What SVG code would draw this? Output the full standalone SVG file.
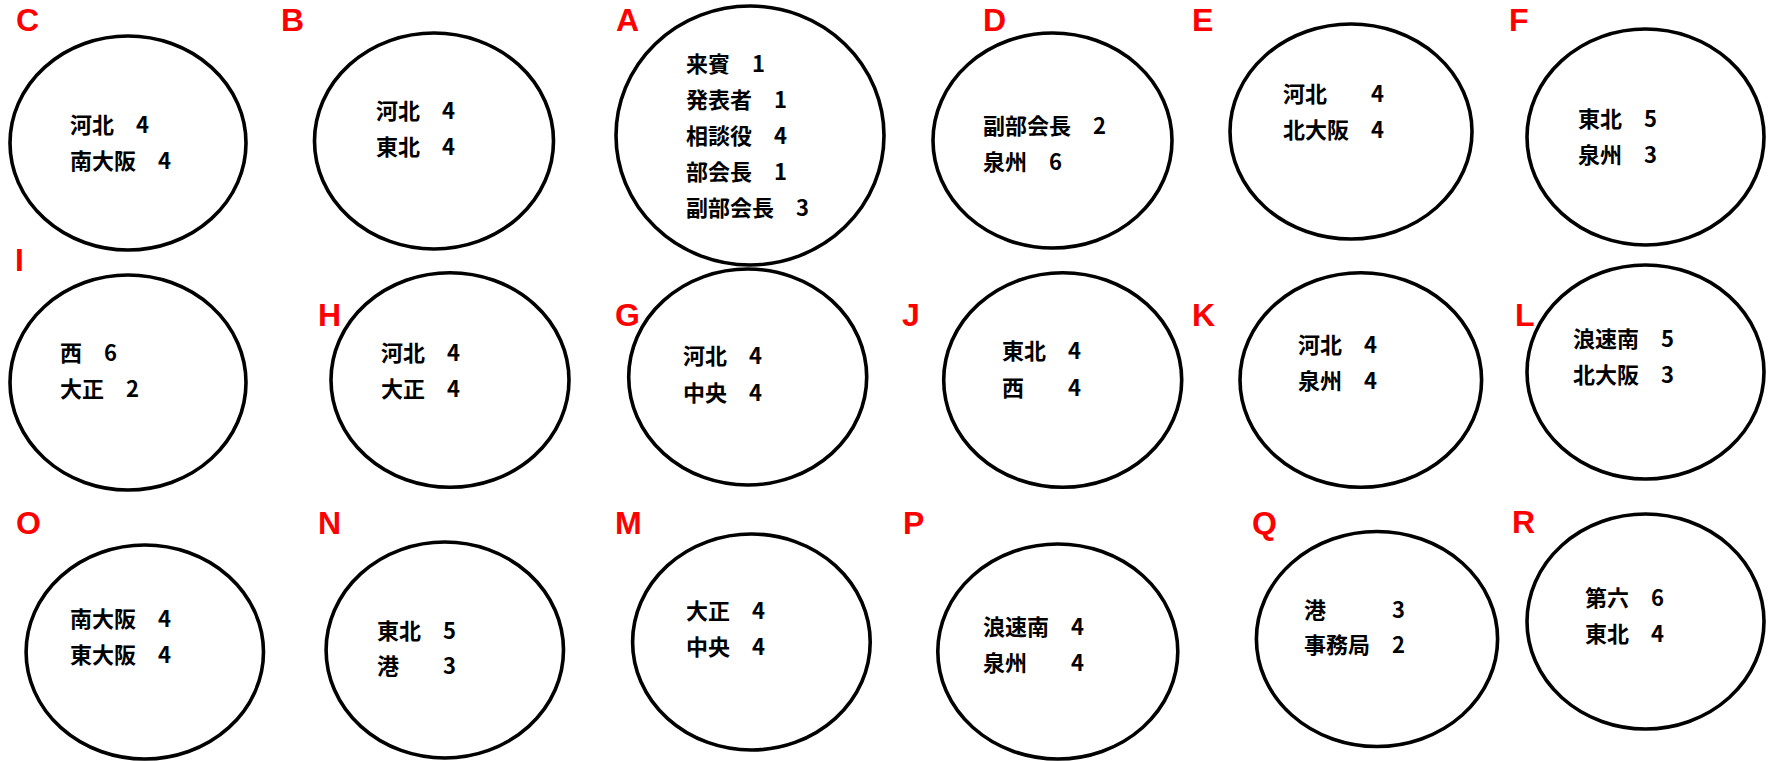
<svg xmlns="http://www.w3.org/2000/svg" width="1770" height="761" viewBox="0 0 1770 761">
<style>
.c{fill:#fff;stroke:#000;stroke-width:3.6}
.l{font-family:"Liberation Sans",Arial,sans-serif;font-weight:700;font-size:32px;fill:#ff0000}
.t{font-family:"Noto Sans CJK JP",sans-serif;font-weight:700;font-size:22px;fill:#000}
</style>
<rect width="1770" height="761" fill="#fff"/>
<g id="connectors"/>
<g id="node-C"><ellipse class="c" cx="128" cy="143" rx="118" ry="107"/><text class="l" x="16" y="31">C</text><text class="t" x="70" y="133">河北　4</text><text class="t" x="70" y="169">南大阪　4</text></g>
<g id="node-B"><ellipse class="c" cx="434" cy="141" rx="119.5" ry="108"/><text class="l" x="281" y="31">B</text><text class="t" x="376" y="119">河北　4</text><text class="t" x="376" y="155">東北　4</text></g>
<g id="node-A"><ellipse class="c" cx="750" cy="135.5" rx="134" ry="129.5"/><text class="l" x="616" y="31">A</text><text class="t" x="686" y="72">来賓　1</text><text class="t" x="686" y="108">発表者　1</text><text class="t" x="686" y="144">相談役　4</text><text class="t" x="686" y="180">部会長　1</text><text class="t" x="686" y="216">副部会長　3</text></g>
<g id="node-D"><ellipse class="c" cx="1052.5" cy="140.5" rx="119.5" ry="107.5"/><text class="l" x="983" y="31">D</text><text class="t" x="983" y="134">副部会長　2</text><text class="t" x="983" y="170">泉州　6</text></g>
<g id="node-E"><ellipse class="c" cx="1351" cy="131.5" rx="121" ry="107.5"/><text class="l" x="1192" y="31">E</text><text class="t" x="1283" y="102">河北　　4</text><text class="t" x="1283" y="138">北大阪　4</text></g>
<g id="node-F"><ellipse class="c" cx="1645.5" cy="137" rx="118.5" ry="108"/><text class="l" x="1509" y="31">F</text><text class="t" x="1578" y="127">東北　5</text><text class="t" x="1578" y="163">泉州　3</text></g>
<g id="node-I"><ellipse class="c" cx="128" cy="382.5" rx="118" ry="107.5"/><text class="l" x="15" y="271">I</text><text class="t" x="60" y="361">西　6</text><text class="t" x="60" y="397">大正　2</text></g>
<g id="node-H"><ellipse class="c" cx="450" cy="380" rx="119" ry="107.3"/><text class="l" x="318" y="326">H</text><text class="t" x="381" y="361">河北　4</text><text class="t" x="381" y="397">大正　4</text></g>
<g id="node-G"><ellipse class="c" cx="747.7" cy="377" rx="119" ry="108"/><text class="l" x="615" y="326">G</text><text class="t" x="683" y="364">河北　4</text><text class="t" x="683" y="401">中央　4</text></g>
<g id="node-J"><ellipse class="c" cx="1062.7" cy="380" rx="119" ry="107.3"/><text class="l" x="902" y="326">J</text><text class="t" x="1002" y="359">東北　4</text><text class="t" x="1002" y="396">西　　4</text></g>
<g id="node-K"><ellipse class="c" cx="1360.8" cy="380" rx="120.8" ry="107.3"/><text class="l" x="1192" y="326">K</text><text class="t" x="1298" y="353">河北　4</text><text class="t" x="1298" y="389">泉州　4</text></g>
<g id="node-L"><ellipse class="c" cx="1645.5" cy="372" rx="118.5" ry="107"/><text class="l" x="1515" y="326">L</text><text class="t" x="1573" y="347">浪速南　5</text><text class="t" x="1573" y="383">北大阪　3</text></g>
<g id="node-O"><ellipse class="c" cx="144.8" cy="652" rx="118.7" ry="107"/><text class="l" x="16" y="534">O</text><text class="t" x="70" y="627">南大阪　4</text><text class="t" x="70" y="663">東大阪　4</text></g>
<g id="node-N"><ellipse class="c" cx="444.8" cy="650" rx="118.7" ry="108"/><text class="l" x="318" y="534">N</text><text class="t" x="377" y="639">東北　5</text><text class="t" x="377" y="674">港　　3</text></g>
<g id="node-M"><ellipse class="c" cx="751.4" cy="642" rx="118.8" ry="108"/><text class="l" x="615" y="534">M</text><text class="t" x="686" y="619">大正　4</text><text class="t" x="686" y="655">中央　4</text></g>
<g id="node-P"><ellipse class="c" cx="1057.8" cy="651.5" rx="120" ry="107.5"/><text class="l" x="903" y="534">P</text><text class="t" x="983" y="635">浪速南　4</text><text class="t" x="983" y="671">泉州　　4</text></g>
<g id="node-Q"><ellipse class="c" cx="1377" cy="639" rx="120.6" ry="107.5"/><text class="l" x="1252" y="534">Q</text><text class="t" x="1304" y="618">港　　　3</text><text class="t" x="1304" y="653">事務局　2</text></g>
<g id="node-R"><ellipse class="c" cx="1645.5" cy="621.5" rx="118.5" ry="107.5"/><text class="l" x="1512" y="533">R</text><text class="t" x="1585" y="606">第六　6</text><text class="t" x="1585" y="642">東北　4</text></g>
</svg>
